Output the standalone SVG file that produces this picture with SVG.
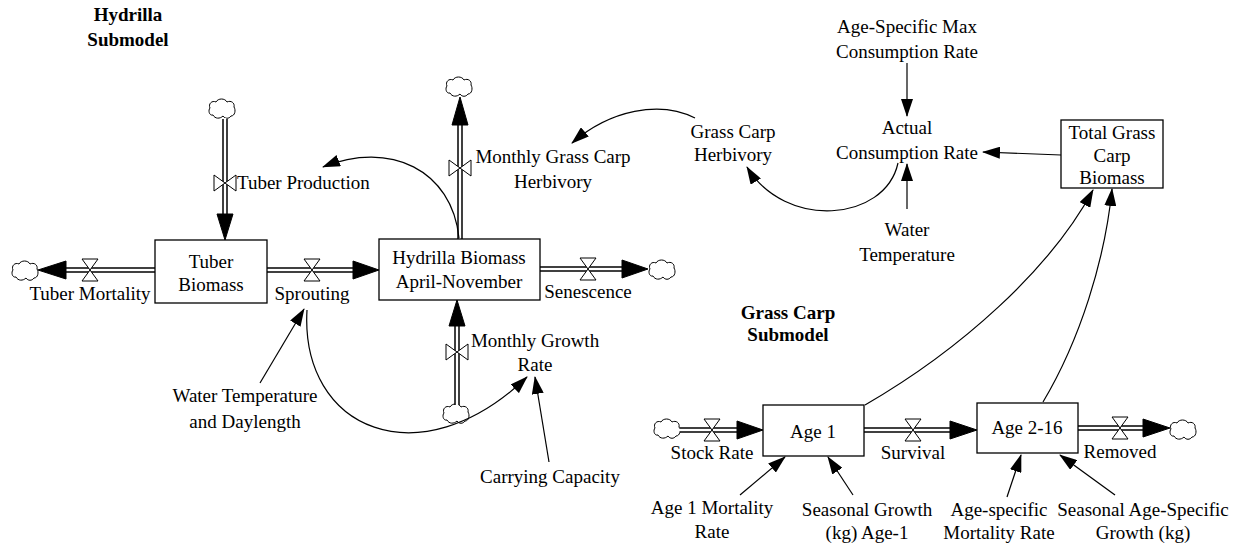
<svg xmlns="http://www.w3.org/2000/svg" xmlns:xlink="http://www.w3.org/1999/xlink" width="1240" height="546" viewBox="0 0 1240 546">
<style>
text{font-family:"Liberation Serif","Times New Roman",serif;font-size:19px;fill:#000}
.c{text-anchor:middle}
.b{font-weight:bold}
.box{fill:#fff;stroke:#000;stroke-width:1.3}
.po{stroke:#000;stroke-width:5.5;fill:none}
.pi{stroke:#fff;stroke-width:2.5;fill:none}
.ah{fill:#000;stroke:#000;stroke-width:1}
.lk{fill:none;stroke:#000;stroke-width:1.2;marker-end:url(#arr)}
.cl{fill:#fff;stroke:#000;stroke-width:1}
.vl{fill:#fff;stroke:#000;stroke-width:1}
</style>
<defs>
<marker id="arr" markerUnits="userSpaceOnUse" markerWidth="18" markerHeight="12" viewBox="0 0 18 12" refX="17" refY="6" orient="auto">
<path d="M0,0 L18,6 L0,12 Z" fill="#000"/>
</marker>
<path id="cloud" class="cl" d="M -9,6 C -13,7 -14,1 -12,-1 C -14,-5 -10,-9 -6,-7 C -4,-11 3,-11 5,-7 C 9,-9 13,-6 12,-2 C 14,1 13,7 9,7 C 7,10 3,10 1,7 C -2,10 -7,10 -9,6 Z"/>
<path id="vh" class="vl" d="M -8,-11 L 8,-11 L -8,11 L 8,11 Z"/>
<path id="vv" class="vl" d="M -11,-8 L -11,8 L 11,-8 L 11,8 Z"/>
</defs>

<g id="titles">
<text class="c b" x="128" y="21">Hydrilla</text>
<text class="c b" x="128" y="46">Submodel</text>
<text class="c b" x="788" y="319">Grass Carp</text>
<text class="c b" x="788" y="341">Submodel</text>
</g>

<g id="connectors">
<!-- flows -->
<g id="flow-tuber-production">
<use xlink:href="#cloud" x="222" y="109"/>
<line class="po" x1="225" y1="119" x2="225" y2="216"/>
<line class="pi" x1="225" y1="118" x2="225" y2="217"/>
<polygon class="ah" points="217,214 233,214 225,240"/>
<use xlink:href="#vv" x="225" y="183"/>
</g>
<g id="flow-tuber-mortality">
<use xlink:href="#cloud" x="25" y="271"/>
<line class="po" x1="155" y1="270" x2="64" y2="270"/>
<line class="pi" x1="156" y1="270" x2="63" y2="270"/>
<polygon class="ah" points="66,261 66,279 38,270"/>
<use xlink:href="#vh" x="90" y="270"/>
</g>
<g id="flow-sprouting">
<line class="po" x1="267" y1="270" x2="355" y2="270"/>
<line class="pi" x1="266" y1="270" x2="356" y2="270"/>
<polygon class="ah" points="353,261 353,279 379,270"/>
<use xlink:href="#vh" x="312" y="270"/>
</g>
<g id="flow-senescence">
<line class="po" x1="540" y1="269" x2="624" y2="269"/>
<line class="pi" x1="539" y1="269" x2="625" y2="269"/>
<polygon class="ah" points="622,260 622,278 648,269"/>
<use xlink:href="#cloud" x="662" y="270"/>
<use xlink:href="#vh" x="588" y="269"/>
</g>
<g id="flow-monthly-herbivory">
<line class="po" x1="460" y1="239" x2="460" y2="123"/>
<line class="pi" x1="460" y1="240" x2="460" y2="122"/>
<polygon class="ah" points="452,125 468,125 460,97"/>
<use xlink:href="#cloud" x="459" y="87"/>
<use xlink:href="#vv" x="460" y="168"/>
</g>
<g id="flow-monthly-growth">
<use xlink:href="#cloud" x="456" y="414"/>
<line class="po" x1="457" y1="405" x2="457" y2="324"/>
<line class="pi" x1="457" y1="406" x2="457" y2="323"/>
<polygon class="ah" points="449,326 465,326 457,300"/>
<use xlink:href="#vv" x="457" y="352"/>
</g>
<g id="flow-stock-rate">
<use xlink:href="#cloud" x="667" y="429"/>
<line class="po" x1="680" y1="430" x2="739" y2="430"/>
<line class="pi" x1="679" y1="430" x2="740" y2="430"/>
<polygon class="ah" points="737,421 737,439 763,430"/>
<use xlink:href="#vh" x="712" y="430"/>
</g>
<g id="flow-survival">
<line class="po" x1="864" y1="430" x2="952" y2="430"/>
<line class="pi" x1="863" y1="430" x2="953" y2="430"/>
<polygon class="ah" points="950,421 950,439 977,430"/>
<use xlink:href="#vh" x="913" y="430"/>
</g>
<g id="flow-removed">
<line class="po" x1="1078" y1="428" x2="1145" y2="428"/>
<line class="pi" x1="1077" y1="428" x2="1146" y2="428"/>
<polygon class="ah" points="1143,419 1143,437 1170,428"/>
<use xlink:href="#cloud" x="1183" y="430"/>
<use xlink:href="#vh" x="1120" y="428"/>
</g>
<!-- links -->
<path class="lk" d="M 459,238 C 452,170 390,140 323,167"/>
<path class="lk" d="M 695,118 C 660,100 610,110 572,143"/>
<path class="lk" d="M 898,163 C 885,222 785,230 747,167"/>
<path class="lk" d="M 307,310 C 300,430 420,480 527,377"/>
<path class="lk" d="M 865,405 C 960,350 1050,270 1093,190"/>
<path class="lk" d="M 1043,402 C 1080,340 1105,260 1112,189"/>
<line class="lk" x1="260" y1="383" x2="304" y2="309"/>
<line class="lk" x1="549" y1="462" x2="535" y2="377"/>
<line class="lk" x1="907" y1="63" x2="907" y2="116"/>
<line class="lk" x1="907" y1="209" x2="907" y2="164"/>
<line class="lk" x1="1061" y1="155" x2="983" y2="152"/>
<line class="lk" x1="740" y1="495" x2="785" y2="457"/>
<line class="lk" x1="853" y1="495" x2="828" y2="457"/>
<line class="lk" x1="1007" y1="497" x2="1021" y2="455"/>
<line class="lk" x1="1115" y1="495" x2="1060" y2="455"/>
</g>

<g id="tuber-biomass">
<rect class="box" x="155" y="240" width="112" height="63"/>
<text class="c" x="211" y="268">Tuber</text>
<text class="c" x="211" y="291">Biomass</text>
</g>
<g id="hydrilla-biomass">
<rect class="box" x="379" y="239" width="161" height="61"/>
<text class="c" x="459" y="264">Hydrilla Biomass</text>
<text class="c" x="459" y="288">April-November</text>
</g>
<g id="total-grass-carp-biomass">
<rect class="box" x="1061" y="120" width="102" height="68"/>
<text class="c" x="1112" y="139">Total Grass</text>
<text class="c" x="1112" y="161.5">Carp</text>
<text class="c" x="1112" y="184">Biomass</text>
</g>
<g id="age-1">
<rect class="box" x="763" y="405" width="101" height="51"/>
<text class="c" x="813" y="438">Age 1</text>
</g>
<g id="age-2-16">
<rect class="box" x="977" y="403" width="101" height="50"/>
<text class="c" x="1027" y="434">Age 2-16</text>
</g>

<g id="label-tuber-production"><text x="237" y="189">Tuber Production</text></g>
<g id="label-tuber-mortality"><text class="c" x="90" y="300">Tuber Mortality</text></g>
<g id="label-sprouting"><text class="c" x="312" y="300">Sprouting</text></g>
<g id="label-senescence"><text class="c" x="588" y="298">Senescence</text></g>
<g id="label-monthly-herbivory"><text class="c" x="553" y="163">Monthly Grass Carp</text><text class="c" x="553" y="188">Herbivory</text></g>
<g id="label-monthly-growth"><text class="c" x="535" y="347">Monthly Growth</text><text class="c" x="535" y="371">Rate</text></g>
<g id="water-temp-daylength"><text class="c" x="245" y="402">Water Temperature</text><text class="c" x="245" y="428">and Daylength</text></g>
<g id="carrying-capacity"><text class="c" x="550" y="483">Carrying Capacity</text></g>
<g id="grass-carp-herbivory"><text class="c" x="733" y="138">Grass Carp</text><text class="c" x="733" y="161">Herbivory</text></g>
<g id="age-specific-max"><text class="c" x="907" y="33">Age-Specific Max</text><text class="c" x="907" y="58">Consumption Rate</text></g>
<g id="actual-consumption"><text class="c" x="907" y="134">Actual</text><text class="c" x="907" y="159">Consumption Rate</text></g>
<g id="water-temperature"><text class="c" x="907" y="236">Water</text><text class="c" x="907" y="261">Temperature</text></g>
<g id="label-stock-rate"><text class="c" x="712" y="459">Stock Rate</text></g>
<g id="label-survival"><text class="c" x="913" y="459">Survival</text></g>
<g id="label-removed"><text class="c" x="1120" y="458">Removed</text></g>
<g id="age1-mortality"><text class="c" x="712" y="514">Age 1 Mortality</text><text class="c" x="712" y="538">Rate</text></g>
<g id="seasonal-growth-age1"><text class="c" x="867" y="516">Seasonal Growth</text><text class="c" x="867" y="539">(kg) Age-1</text></g>
<g id="age-specific-mortality"><text class="c" x="999" y="516">Age-specific</text><text class="c" x="999" y="539">Mortality Rate</text></g>
<g id="seasonal-age-specific-growth"><text class="c" x="1143" y="516">Seasonal Age-Specific</text><text class="c" x="1143" y="539">Growth (kg)</text></g>
</svg>
